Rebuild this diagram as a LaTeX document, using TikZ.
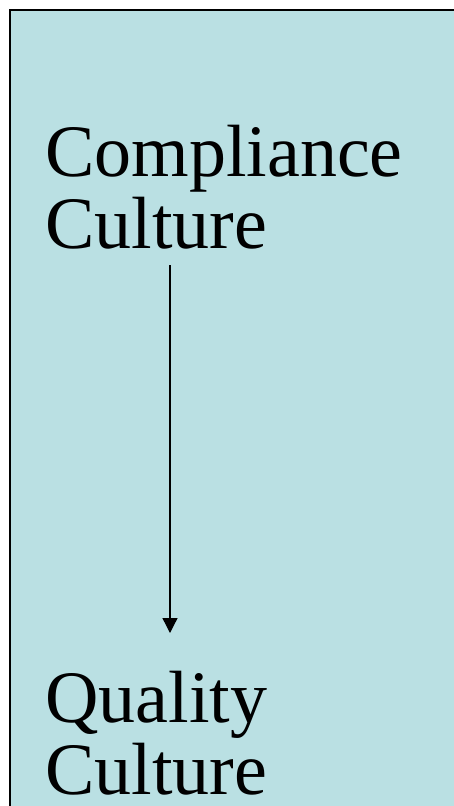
\documentclass[tikz,border=0pt]{standalone}
\usepackage{fontspec}
\setmainfont{Liberation Serif}
\usetikzlibrary{arrows.meta}
\definecolor{panelblue}{RGB}{186,224,227}
\tikzset{
  bigtext/.style={font=\fontsize{74}{72}\selectfont, align=left, inner sep=0pt, anchor=base west, text=black},
  panel/.style={draw=black, line width=2pt, fill=panelblue},
  flow/.style={line width=1.3pt, -{Triangle[length=15pt, width=15pt]}}
}
\begin{document}
\begin{tikzpicture}[x=1pt,y=1pt]
\useasboundingbox (0,0) rectangle (454,-806);
\fill[white] (0,0) rectangle (454,-806);
\draw[panel] (10,-10) rectangle (470,-830);
\node[bigtext] (comp) at (45,-248) {Compliance\\Culture};
\node[bigtext] (qual) at (45,-794) {Quality\\Culture};
\coordinate (a1) at (170,-265);
\coordinate (a2) at (170,-633);
\draw[flow] (a1) -- (a2);
\end{tikzpicture}
\end{document}
